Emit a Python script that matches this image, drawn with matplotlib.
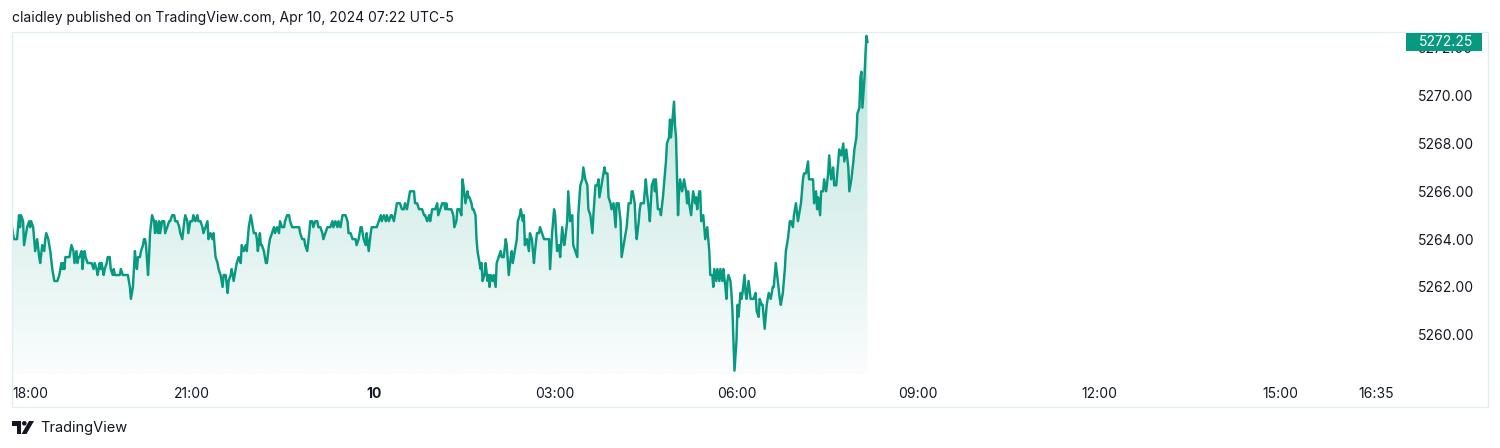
import numpy as np
import matplotlib
matplotlib.use("Agg")
import matplotlib.pyplot as plt
from matplotlib.patches import Polygon, Rectangle, Circle

plt.rcParams['font.family'] = ['Inter', 'DejaVu Sans']

# minutes after 18:00 (Apr 9) and price
minutes = [
    1, 3, 6, 8, 9, 10, 12, 13, 14, 16, 18, 19, 20, 22, 23, 24, 26, 28, 29, 31,
    33, 34, 35, 37, 39, 41, 43, 46, 48, 50, 51, 52, 53, 54, 56, 58, 59, 60, 62, 63,
    64, 65, 66, 67, 68, 70, 71, 72, 73, 74, 76, 78, 80, 82, 83, 85, 86, 88, 89, 90,
    92, 93, 95, 96, 98, 99, 101, 102, 103, 105, 108, 109, 111, 114, 116, 118, 119, 121, 122, 123,
    124, 125, 126, 128, 129, 131, 132, 133, 134, 136, 137, 138, 140, 142, 143, 144, 146, 147, 148, 150,
    152, 153, 155, 157, 158, 160, 162, 163, 165, 167, 168, 170, 172, 173, 175, 176, 178, 180, 181, 183,
    185, 186, 188, 190, 191, 193, 195, 196, 198, 200, 201, 203, 205, 206, 208, 210, 211, 213,
    215, 216, 218, 219, 221, 223, 224, 226, 228, 229, 231, 233, 234, 236, 238, 239, 241, 243, 244, 245,
    247, 248, 249, 251, 253, 254, 256, 257, 259, 261, 262, 264, 266, 267, 269, 271, 272, 274, 276, 277,
    279, 281, 282, 284, 286, 287, 289, 291, 292, 294, 296, 297, 299, 300, 302, 304, 305, 307, 309, 310,
    312, 314, 315, 317, 319, 320, 322, 324, 325, 327, 329, 330, 332, 334, 335, 337, 339, 340, 342, 343,
    345, 347, 348, 350, 352, 353, 355, 357, 358, 360, 363, 365, 367, 368, 370, 372, 373, 375, 377, 378,
    380, 382, 383, 385, 386, 388, 390, 391, 393, 395, 396, 398, 400, 401, 403, 405, 406, 408, 410, 411,
    413, 415, 416, 418, 420, 421, 423, 424,
    426, 428, 430, 431, 432, 433, 435, 437, 439, 440, 442, 443, 445, 447, 448, 449, 451, 453, 454, 455,
    457, 458, 459, 461, 462, 463, 465, 466, 467, 468, 470, 471, 473, 474, 475, 476, 478, 479, 481, 482,
    484, 486, 487, 489, 491, 492, 494, 496, 497, 498, 500, 502, 503, 505, 506, 508, 509, 510, 512, 514,
    515, 517, 519, 520, 522, 524, 525, 527, 529, 530, 532, 534, 535, 537, 539, 540, 542, 544, 545, 547,
    549, 550, 552, 553, 555, 557, 558, 560, 562, 563, 565, 567, 568, 570, 572, 573, 575, 577, 578, 580,
    582, 583, 584, 586, 588, 589, 590, 592, 593, 595, 596, 598, 600, 601, 603, 605, 606, 608, 610, 611,
    613, 615, 616, 617, 619, 620, 621, 623, 624, 625, 627, 628, 630, 631, 633,
    634, 636, 638, 639, 640, 642, 644, 645, 647, 648, 650, 651, 653, 654, 655, 656, 658, 659, 660, 662,
    663, 664, 666, 667, 668, 670, 671, 672, 673, 675, 676, 677, 679, 680, 681, 683, 684, 685, 687, 688,
    689, 691, 692, 693, 694, 696, 697, 698, 700, 701, 703, 704, 706, 707, 709, 710, 711, 712, 714, 715,
    716, 717, 718, 720, 721, 722, 724, 725, 726, 728, 729, 730, 732, 734, 735, 737, 739, 740, 742, 743,
    745, 746, 748, 749, 750, 752,
    754, 756, 757, 759, 761, 763, 764, 766, 768, 769, 771, 773, 774, 776, 777, 779, 781, 782, 784, 786,
    787, 789, 791, 792, 794, 796, 797, 799, 800, 801, 803, 804, 806, 807, 809, 811, 812, 814, 816, 817,
    819, 821, 822, 824, 826, 827, 829, 831, 832, 834, 836, 837, 839, 840, 842, 843, 844, 845, 847, 848,
    849, 850,
]
prices = [
    5264.5, 5264.0, 5264.0, 5265.0, 5264.5, 5265.0, 5264.75, 5263.75, 5264.0, 5264.5,
    5264.75, 5264.5, 5264.75, 5264.5, 5264.0, 5263.5, 5264.0, 5263.25, 5263.0, 5263.75,
    5263.5, 5264.0, 5264.25, 5264.0, 5263.5, 5262.75, 5262.25, 5262.25, 5262.5, 5263.0,
    5262.75, 5263.0, 5262.75, 5263.25, 5263.25, 5263.25, 5263.5, 5263.75, 5263.5, 5263.0,
    5263.25, 5263.5, 5263.0, 5263.25, 5263.25, 5263.5, 5262.75, 5263.25, 5263.5, 5263.25,
    5263.0, 5263.0, 5263.0, 5262.75, 5263.0, 5262.75, 5262.5, 5263.0, 5262.75, 5263.0,
    5262.5, 5262.75, 5263.0, 5263.25, 5263.25, 5262.75, 5262.5, 5262.75, 5262.5, 5262.5,
    5262.5, 5262.75, 5262.5, 5262.5, 5262.5, 5262.0, 5261.5, 5262.0, 5262.75, 5263.5,
    5263.0, 5262.75, 5263.25, 5263.25, 5263.5, 5263.75, 5264.0, 5264.0, 5263.75, 5262.5,
    5263.25, 5264.25, 5265.0, 5264.75, 5264.25, 5264.75, 5264.25, 5264.75, 5264.25, 5264.75,
    5264.75, 5264.25, 5264.5, 5264.75, 5264.75, 5265.0, 5265.0, 5264.75, 5264.75, 5264.5,
    5264.25, 5264.0, 5264.75, 5265.0, 5264.75, 5264.25, 5264.75, 5264.75, 5265.0, 5264.75,
    5265.0, 5264.75, 5264.75, 5264.5, 5264.25, 5264.5, 5264.75, 5264.0, 5264.25, 5264.0,
    5264.25, 5263.25, 5263.0, 5262.75, 5262.5, 5262.0, 5262.5, 5262.5,
    5261.75, 5262.25, 5262.5, 5262.75, 5262.25, 5262.75, 5263.0, 5263.25, 5263.0, 5263.75,
    5263.5, 5263.75, 5263.5, 5264.5, 5265.0, 5264.75, 5264.25, 5264.25, 5264.0, 5263.5,
    5264.25, 5263.75, 5263.75, 5263.5, 5263.0, 5263.0, 5263.75, 5264.0, 5264.25, 5264.5,
    5264.25, 5264.5, 5264.25, 5264.75, 5264.5, 5264.5, 5264.75, 5265.0, 5265.0, 5264.75,
    5264.5, 5264.5, 5264.5, 5264.5, 5264.5, 5264.25, 5264.0, 5264.0, 5263.75, 5263.5,
    5264.25, 5264.75, 5264.75, 5264.5, 5264.75, 5264.75, 5264.5, 5264.5, 5264.25, 5264.0,
    5264.25, 5264.5, 5264.5, 5264.5, 5264.75, 5264.5, 5264.75, 5264.5, 5264.75, 5264.5,
    5265.0, 5265.0, 5265.0, 5264.75, 5264.25, 5264.25, 5264.0, 5264.0, 5264.0, 5263.75,
    5264.0, 5264.5, 5264.5, 5264.0, 5263.75, 5264.25, 5263.5, 5264.25, 5264.5, 5264.5,
    5264.5, 5264.75, 5265.0, 5264.75, 5265.0, 5264.75, 5265.0, 5264.75, 5265.0, 5265.0,
    5264.75, 5265.25, 5265.5, 5265.5, 5265.5, 5265.25, 5265.25, 5265.5, 5265.25, 5265.75,
    5266.0, 5266.0, 5266.0, 5265.5, 5265.5, 5265.25, 5265.25, 5265.25, 5265.0, 5265.0,
    5264.75, 5265.0, 5264.75, 5265.25, 5265.25, 5265.25, 5265.5, 5265.0,
    5265.25, 5265.5, 5265.5, 5265.25, 5265.5, 5265.25, 5265.25, 5265.25, 5265.0, 5264.5,
    5264.75, 5265.25, 5265.25, 5265.0, 5266.5, 5266.25, 5265.5, 5266.0, 5265.75, 5265.75,
    5265.5, 5265.25, 5265.25, 5265.0, 5264.0, 5263.5, 5263.0, 5262.75, 5263.0, 5262.25,
    5262.5, 5263.0, 5262.25, 5262.5, 5262.0, 5262.5, 5262.25, 5262.5, 5262.0, 5263.0,
    5263.25, 5263.5, 5263.25, 5263.25, 5264.0, 5263.75, 5262.5, 5263.25, 5263.5, 5263.0,
    5263.5, 5264.0, 5264.75, 5265.0, 5265.25, 5264.75, 5265.0, 5263.75, 5264.0, 5263.5,
    5264.25, 5264.0, 5263.0, 5263.5, 5264.25, 5264.25, 5264.5, 5264.25, 5264.0, 5264.0,
    5264.0, 5264.0, 5262.75, 5264.25, 5265.25, 5265.0, 5263.5, 5263.75, 5263.25, 5264.5,
    5263.75, 5264.0, 5264.75, 5266.0, 5264.75, 5265.0, 5263.75, 5263.5, 5263.25, 5265.0,
    5266.25, 5266.5, 5267.0, 5266.5, 5266.25, 5265.25, 5265.0, 5264.25, 5265.0, 5266.25,
    5266.25, 5266.5, 5265.75, 5266.25, 5266.75, 5267.0, 5266.75, 5266.75, 5265.75, 5265.5,
    5265.25, 5265.5, 5264.5, 5265.5, 5265.5, 5264.75, 5263.25, 5263.75, 5264.25, 5264.5,
    5265.5, 5265.5, 5266.0, 5266.0, 5265.5, 5264.5, 5264.0, 5264.75, 5265.25, 5265.5,
    5265.5, 5265.5, 5266.5, 5266.0, 5265.25,
    5264.75, 5266.25, 5266.5, 5266.0, 5266.5, 5265.25, 5265.25, 5265.0, 5265.75, 5266.25,
    5267.25, 5268.0, 5268.25, 5269.0, 5268.25, 5268.75, 5269.75, 5268.75, 5268.25, 5265.0,
    5266.0, 5266.5, 5266.0, 5266.25, 5266.5, 5266.0, 5265.5, 5266.0, 5265.5, 5265.0,
    5265.5, 5266.0, 5265.5, 5265.75, 5265.25, 5266.0, 5266.0, 5264.75, 5265.0, 5264.5,
    5264.0, 5264.5, 5264.0, 5263.5, 5262.5, 5262.5, 5262.0, 5262.75, 5262.25, 5262.75,
    5262.25, 5262.75, 5262.25, 5262.75, 5262.0, 5261.5, 5262.25, 5262.5, 5262.25, 5261.75,
    5261.0, 5259.75, 5258.5, 5259.75, 5261.25, 5260.75, 5261.75, 5261.5, 5261.75, 5262.5,
    5261.75, 5261.5, 5262.25, 5261.5, 5261.5, 5261.5, 5261.75, 5261.0, 5260.75, 5261.5,
    5261.25, 5261.25, 5260.25, 5260.75, 5261.25, 5261.75,
    5261.5, 5262.0, 5262.0, 5263.0, 5262.25, 5261.5, 5261.25, 5261.75, 5262.75, 5263.5,
    5264.0, 5264.75, 5264.75, 5264.5, 5265.0, 5265.5, 5264.75, 5265.0, 5265.5, 5266.5,
    5266.75, 5266.75, 5267.25, 5266.5, 5266.5, 5266.5, 5265.5, 5266.0, 5265.25, 5265.75,
    5265.0, 5266.0, 5266.0, 5266.5, 5266.0, 5266.75, 5267.5, 5266.5, 5267.0, 5266.25,
    5266.25, 5267.25, 5267.75, 5267.5, 5268.0, 5267.25, 5267.75, 5267.0, 5266.0, 5266.5,
    5267.25, 5267.75, 5268.25, 5269.25, 5269.5, 5270.75, 5271.0, 5269.5, 5270.75, 5271.75,
    5272.5, 5272.25,
]
last_price = 5272.25

tick_minutes = [1, 180, 360, 540, 720, 900, 1080, 1260, 1355]
tick_labels = ["18:00", "21:00", "10", "03:00", "06:00", "09:00", "12:00", "15:00", "16:35"]
price_ticks = [5260, 5262, 5264, 5266, 5268, 5270, 5272]

title = "claidley published on TradingView.com, Apr 10, 2024 07:22 UTC-5"

GREEN = "#089981"
TEXT = "#131722"
W, H = 1500, 448

t = np.array(minutes, dtype=float)
p = np.array(prices)

fig = plt.figure(figsize=(W / 100, H / 100), dpi=100)
fig.patch.set_facecolor("white")

# pane area in pixels: x 12..1400, y 33..374
ax = fig.add_axes([12 / W, 1 - 374 / H, (1400 - 12) / W, (374 - 33) / H])
ymin, ymax = 5258.36, 5272.62
xmin, xmax = 1.0, 1378.5

# line + gradient fill under it
ax.plot(t, p, color=GREEN, lw=1.75, zorder=3, solid_joinstyle="round")
verts = np.column_stack([np.r_[t[0], t, t[-1]], np.r_[ymin, p, ymin]])
clip = Polygon(verts, closed=True, facecolor="none", edgecolor="none")
ax.add_patch(clip)
grad = np.zeros((256, 1, 4))
grad[..., 0], grad[..., 1], grad[..., 2] = 8 / 255, 153 / 255, 129 / 255
grad[:, 0, 3] = np.linspace(0.28, 0.02, 256)
im = ax.imshow(grad, extent=[t[0], t[-1], ymin, p.max()], aspect="auto",
               origin="upper", zorder=1, interpolation="bilinear")
im.set_clip_path(clip)

ax.set_xlim(xmin, xmax)
ax.set_ylim(ymin, ymax)
for s in ax.spines.values():
    s.set_visible(False)

ax.set_xticks(tick_minutes)
ax.set_xticklabels(tick_labels)
ax.tick_params(axis="x", length=0, pad=9, labelsize=10, labelcolor=TEXT)
for lab in ax.get_xticklabels():
    if lab.get_text() == "10":
        lab.set_fontweight("bold")
    if lab.get_text() == "18:00":
        lab.set_horizontalalignment("left")

ax.yaxis.tick_right()
ax.set_yticks(price_ticks)
ax.set_yticklabels([f"{v:.2f}" for v in price_ticks])
ax.tick_params(axis="y", length=0, pad=13, labelsize=10, labelcolor=TEXT)

# outer frame
fig.patches.append(Rectangle((12 / W, 1 - 407 / H), (1488 - 12) / W, (407 - 32) / H,
                             transform=fig.transFigure, fill=False,
                             edgecolor="#e3eef0", lw=1, zorder=0))

# last price badge (covers the 5272.00 label as in the original)
fig.patches.append(Rectangle((1406 / W, 1 - 51 / H), 76 / W, 18 / H,
                             transform=fig.transFigure, facecolor=GREEN,
                             edgecolor="none", zorder=5))
fig.text(1446 / W, 1 - 42 / H, f"{last_price:.2f}", color="white", size=10,
         ha="center", va="center", zorder=6)

fig.text(12 / W, 1 - 18 / H, title, color=TEXT, size=10, ha="left", va="center")

# TradingView logo + name
lax = fig.add_axes([12 / W, 1 - 434 / H, 22 / W, 13 / H])
lax.set_xlim(0, 22)
lax.set_ylim(0, 13)
lax.axis("off")
lax.add_patch(Rectangle((0, 8.5), 8.5, 4.5, color=TEXT, lw=0))
lax.add_patch(Rectangle((4.5, 0), 4.0, 13, color=TEXT, lw=0))
lax.add_patch(Circle((12.3, 10.7), 2.3, color=TEXT, lw=0))
lax.add_patch(Polygon([(9.5, 0), (14.5, 0), (22, 13), (17, 13)], closed=True, color=TEXT, lw=0))
fig.text(40 / W, 1 - 428 / H, "TradingView", color=TEXT, size=10.5, ha="left", va="center")

fig.savefig("out.png", dpi=100)
